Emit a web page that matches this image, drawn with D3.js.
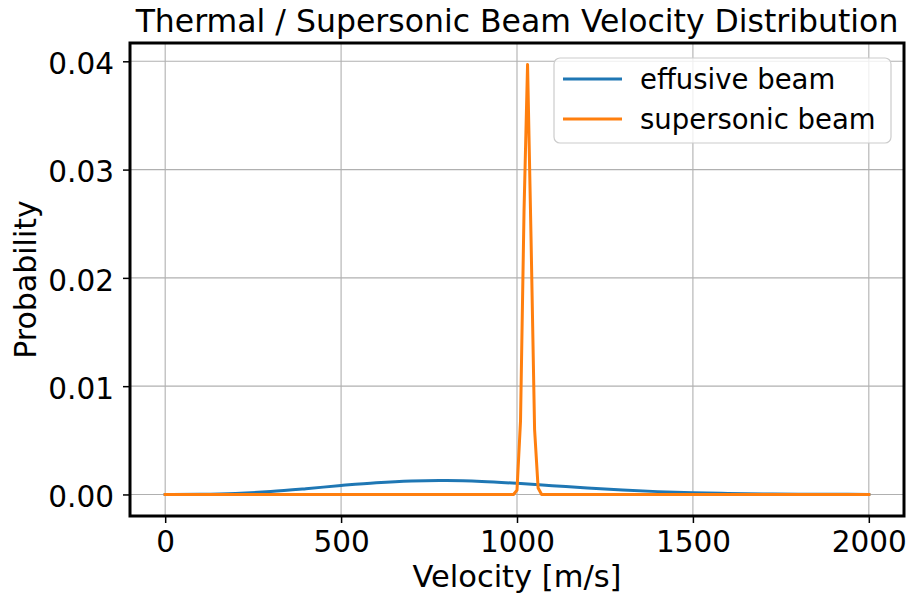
<!DOCTYPE html>
<html>
<head>
<meta charset="utf-8">
<script src="https://cdn.jsdelivr.net/npm/d3@7"></script>
<style>
  html, body { margin: 0; padding: 0; background: #fff; }
  svg { display: block; }
  text { font-family: "DejaVu Sans", sans-serif; fill: #000; }
</style>
</head>
<body>
<script>
// ---- data ----
const effusiveVelocity = [0, 100, 200, 300, 400, 500, 600, 700, 800, 900, 1000,
  1100, 1200, 1300, 1400, 1500, 1600, 1700, 1800, 1900, 2000];
const effusiveProb = [0, 0.000012, 0.000089, 0.000266, 0.000529, 0.000827, 0.001088,
  0.001252, 0.001288, 0.001203, 0.001030, 0.000814, 0.000598, 0.000409, 0.000261,
  0.000157, 0.000088, 0.000047, 0.000023, 0.000011, 0.000005];

const supersonicVelocity = [0, 990, 1000, 1010, 1020, 1030, 1040, 1050, 1060, 1070, 2000];
const supersonicProb = [0, 0, 0.0004, 0.0068, 0.0262, 0.0397, 0.0235, 0.0060, 0.0006, 0, 0];

const xTicks = [0, 500, 1000, 1500, 2000];
const yTicks = [0.00, 0.01, 0.02, 0.03, 0.04];

const seriesNames = ["effusive beam", "supersonic beam"];
const seriesColors = ["#1f77b4", "#ff7f0e"];

const titleText = "Thermal / Supersonic Beam Velocity Distribution";
const xLabel = "Velocity [m/s]";
const yLabel = "Probability";

// ---- layout ----
const W = 912, H = 597;
const plot = { left: 130, right: 904, top: 43, bottom: 516 };

const svg = d3.select("body").append("svg").attr("width", W).attr("height", H);

const x = d3.scaleLinear().domain([-100, 2100]).range([plot.left, plot.right]);
const y = d3.scaleLinear().domain([-0.00199, 0.04169]).range([plot.bottom, plot.top]);

// grid
const grid = svg.append("g");
grid.selectAll("line.vx").data(xTicks).join("line")
  .attr("x1", d => x(d)).attr("x2", d => x(d))
  .attr("y1", plot.top).attr("y2", plot.bottom)
  .attr("stroke", "#b0b0b0").attr("stroke-width", 1.1);
grid.selectAll("line.hy").data(yTicks).join("line")
  .attr("y1", d => y(d)).attr("y2", d => y(d))
  .attr("x1", plot.left).attr("x2", plot.right)
  .attr("stroke", "#b0b0b0").attr("stroke-width", 1.1);

// lines
const eff = effusiveVelocity.map((v, i) => [v, effusiveProb[i]]);
const sup = supersonicVelocity.map((v, i) => [v, supersonicProb[i]]);

svg.append("path").datum(eff)
  .attr("d", d3.line().x(d => x(d[0])).y(d => y(d[1])).curve(d3.curveCatmullRom))
  .attr("fill", "none").attr("stroke", seriesColors[0]).attr("stroke-width", 3)
  .attr("stroke-linecap", "square").attr("stroke-linejoin", "round");

svg.append("path").datum(sup)
  .attr("d", d3.line().x(d => x(d[0])).y(d => y(d[1])))
  .attr("fill", "none").attr("stroke", seriesColors[1]).attr("stroke-width", 3)
  .attr("stroke-linecap", "square").attr("stroke-linejoin", "round");

// axes
const xAxis = svg.append("g").attr("transform", `translate(0,${plot.bottom})`)
  .call(d3.axisBottom(x).tickValues(xTicks).tickFormat(d3.format("d")).tickSize(7).tickPadding(8));
const yAxis = svg.append("g").attr("transform", `translate(${plot.left},0)`)
  .call(d3.axisLeft(y).tickValues(yTicks).tickFormat(d3.format(".2f")).tickSize(7).tickPadding(9));
[xAxis, yAxis].forEach(g => {
  g.select(".domain").remove();
  g.selectAll(".tick line").attr("stroke", "#000").attr("stroke-width", 1.5);
  g.selectAll(".tick text").attr("font-size", 29.5).attr("font-family", "DejaVu Sans").attr("fill", "#000");
});
xAxis.selectAll(".tick text").attr("dy", null).attr("y", 36);
yAxis.selectAll(".tick text").attr("dy", "0.42em");

// frame
svg.append("rect")
  .attr("x", plot.left).attr("y", plot.top)
  .attr("width", plot.right - plot.left).attr("height", plot.bottom - plot.top)
  .attr("fill", "none").attr("stroke", "#000").attr("stroke-width", 3);

// title and labels
svg.append("text").attr("x", (plot.left + plot.right) / 2).attr("y", 32)
  .attr("text-anchor", "middle").attr("font-size", 31.5).text(titleText);
svg.append("text").attr("x", (plot.left + plot.right) / 2).attr("y", 587)
  .attr("text-anchor", "middle").attr("font-size", 30.5).text(xLabel);
svg.append("text")
  .attr("transform", `translate(36,${(plot.top + plot.bottom) / 2}) rotate(-90)`)
  .attr("text-anchor", "middle").attr("font-size", 30).text(yLabel);

// legend
const lg = svg.append("g");
lg.append("rect").attr("x", 554).attr("y", 58).attr("width", 337).attr("height", 85)
  .attr("rx", 6).attr("ry", 6)
  .attr("fill", "#fff").attr("fill-opacity", 0.8)
  .attr("stroke", "#cccccc").attr("stroke-width", 1.2);
const items = lg.selectAll("g.item").data(seriesNames).join("g")
  .attr("transform", (d, i) => `translate(0,${79 + i * 40})`);
items.append("line").attr("x1", 563).attr("x2", 622).attr("y1", 0).attr("y2", 0)
  .attr("stroke", (d, i) => seriesColors[i]).attr("stroke-width", 3);
items.append("text").attr("x", 640).attr("y", 9.5).attr("font-size", 27.5).text(d => d);
</script>
</body>
</html>
